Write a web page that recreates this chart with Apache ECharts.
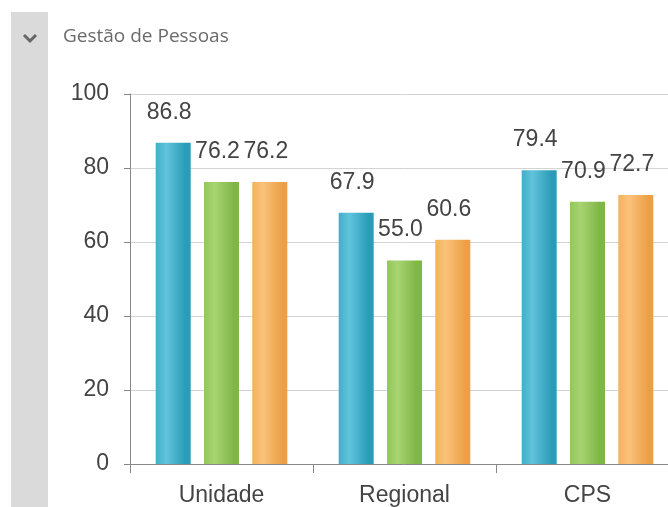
<!DOCTYPE html>
<html>
<head>
<meta charset="utf-8">
<script src="https://cdn.jsdelivr.net/npm/echarts@6/dist/echarts.min.js"></script>
<style>
  html, body { margin: 0; padding: 0; background: #fff; overflow: hidden; }
  /* the original chart is cut off on the right, so draw it wider than the window */
  #chart { width: 682px; height: 507px; }
</style>
</head>
<body>
<div id="chart"></div>
<script>
// data
const categories = ["Unidade", "Regional", "CPS"];
const serieA = [86.8, 67.9, 79.4];
const serieB = [76.2, 55.0, 70.9];
const serieC = [76.2, 60.6, 72.7];
const yTicks = [0, 20, 40, 60, 80, 100];

// bar gradients (lighter band near the left, darker edges)
function barFill(mid, light, dark) {
  return new echarts.graphic.LinearGradient(0, 0, 1, 0, [
    { offset: 0, color: mid },
    { offset: 0.3, color: light },
    { offset: 0.85, color: dark },
    { offset: 1, color: dark }
  ]);
}

const labelStyle = {
  show: true,
  position: "top",
  distance: 19,
  offset: [-4, 0],
  fontFamily: "Liberation Sans",
  fontSize: 23,
  color: "#444",
  formatter: (p) => p.value.toFixed(1)
};

function makeSeries(data, fill) {
  return {
    type: "bar",
    data: data,
    barWidth: 35,
    barGap: "38%",
    itemStyle: { color: fill },
    label: labelStyle
  };
}

const chart = echarts.init(document.getElementById("chart"));
chart.setOption({
  animation: false,
  backgroundColor: "#fff",
  graphic: [
    { type: "rect", left: 11, top: 12, shape: { width: 37, height: 495 }, style: { fill: "#dadada" } },
    {
      type: "polyline",
      shape: { points: [[24, 35], [30, 41], [36, 35]] },
      style: { stroke: "#666", lineWidth: 3, fill: null }
    }
  ],
  title: {
    text: "Gestão de Pessoas",
    left: 58,
    top: 22,
    textStyle: { fontFamily: "Open Sans", fontSize: 19, fontWeight: "normal", color: "#6a6a6a" }
  },
  grid: { left: 130, right: 3, top: 94, bottom: 43 },
  xAxis: {
    type: "category",
    data: categories,
    axisLine: { lineStyle: { color: "#888", width: 1 } },
    axisTick: { show: true, length: 9, lineStyle: { color: "#888" } },
    axisLabel: { fontFamily: "Liberation Sans", fontSize: 23, color: "#444", margin: 20 }
  },
  yAxis: {
    type: "value",
    min: yTicks[0],
    max: yTicks[yTicks.length - 1],
    interval: 20,
    axisLine: { show: true, lineStyle: { color: "#888", width: 1 } },
    axisTick: { show: true, length: 6, lineStyle: { color: "#888" } },
    axisLabel: { fontFamily: "Liberation Sans", fontSize: 23, color: "#444", margin: 21 },
    splitLine: { lineStyle: { color: "#d4d4d4" } }
  },
  series: [
    makeSeries(serieA, barFill("#40afca", "#62c3dc", "#2a9cb8")),
    makeSeries(serieB, barFill("#92c75a", "#a8d372", "#7fb746")),
    makeSeries(serieC, barFill("#f3b15c", "#fac27a", "#eca046"))
  ]
});
</script>
</body>
</html>
